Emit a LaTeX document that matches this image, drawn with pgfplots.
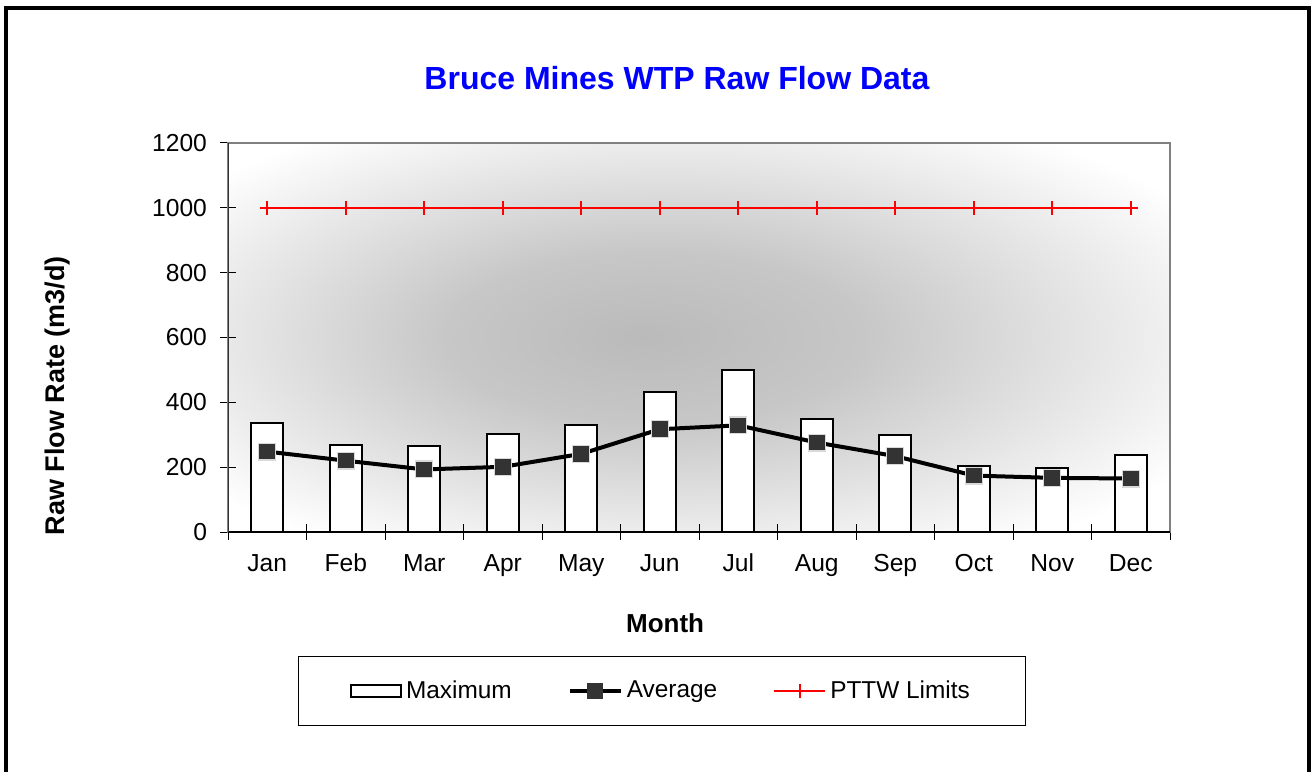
\documentclass[border=0pt]{standalone}
\usepackage{fontspec}
\setmainfont{Liberation Sans}
\usepackage{pgfplots}
\pgfplotsset{compat=1.18}
\definecolor{mkgray}{RGB}{51,51,51}
\definecolor{frgray}{RGB}{128,128,128}
\definecolor{pttwred}{RGB}{255,0,0}
\definecolor{titleblue}{RGB}{0,0,255}
\pgfdeclareradialshading{bgshade}{\pgfpoint{-3bp}{0bp}}{%
  color(0bp)=(black!27);
  color(11bp)=(black!22);
  color(32bp)=(white);
  color(50bp)=(white)}
\begin{document}
\begin{tikzpicture}
\path[use as bounding box] (0,0) rectangle (655.5pt,385.5pt);
\draw[black,line width=2pt] (3pt,-2pt) -- (3pt,381.5pt) -- (654.5pt,381.5pt) -- (654.5pt,-2pt);
\begin{axis}[
  at={(114pt,119.5pt)}, anchor=south west,
  scale only axis, width=471pt, height=194.5pt,
  xmin=0.5, xmax=12.5, ymin=0, ymax=1200,
  xtick={0.5,1.5,...,12.5},
  x tick label as interval,
  xticklabels={Jan,Feb,Mar,Apr,May,Jun,Jul,Aug,Sep,Oct,Nov,Dec},
  ytick={0,200,...,1200},
  xtick pos=bottom, ytick pos=left,
  tick align=center, major tick length=8pt,
  every tick/.style={black,line width=0.5pt},
  /pgf/number format/assume math mode=true,
  /pgf/number format/1000 sep={},
  tick label style={font=\fontsize{12.3}{14}\selectfont},
  xticklabel style={yshift=-3pt,text height=9pt,text depth=2.5pt},
  yticklabel style={xshift=-3pt},
  axis line style={frgray,line width=1pt},
  axis background/.style={shading=bgshade},
  every axis title shift=0pt,
  title={Bruce Mines WTP Raw Flow Data},
  title style={at={(axis description cs:0.4766,1.167)},anchor=center,
    font=\fontsize{16}{19}\selectfont\bfseries,text=titleblue},
  xlabel={Month},
  xlabel style={at={(axis description cs:0.464,-0.234)},anchor=center,
    font=\fontsize{13}{15}\selectfont\bfseries},
  ylabel={Raw Flow Rate (m3/d)},
  ylabel style={at={(axis description cs:-0.1805,0.35)},anchor=center,rotate=0,
    font=\fontsize{13.5}{15}\selectfont\bfseries},
  legend columns=3,
  legend style={at={(axis description cs:0.4607,-0.4087)},anchor=center,
    draw=black,line width=0.5pt,fill=white,
    inner xsep=25.75pt, inner ysep=10pt,
    font=\fontsize{12.2}{14}\selectfont,
    /tikz/every even column/.append style={column sep=26pt},
    cells={anchor=west}},
]
\draw[black,line width=1pt] (rel axis cs:0,0) -- (rel axis cs:1,0);
\draw[black!80,line width=1pt] (rel axis cs:0,0) -- (rel axis cs:0,1);
\addplot[ybar, bar width=0.41, fill=white, draw=black, line width=1.1pt,
  legend image code/.code={\draw[black,fill=white,line width=1pt] (0pt,-3pt) rectangle (25pt,3pt);}]
  coordinates {(1,336) (2,269) (3,265) (4,302) (5,330) (6,432) (7,500) (8,349) (9,300) (10,204) (11,197) (12,237)};
\addlegendentry{Maximum}
\addplot[black, line width=2pt, mark=square*, mark size=4.2pt,
  mark options={fill=mkgray, draw=white!85!black, line width=0.6pt},
  legend image code/.code={\draw[black,line width=2pt] (0pt,0pt) -- (25.5pt,0pt);
    \fill[mkgray] (9.75pt,-3pt) rectangle (15.75pt,3pt);}]
  coordinates {(1,248) (2,220) (3,193) (4,201) (5,241) (6,317) (7,329) (8,276) (9,234) (10,174) (11,167) (12,165)};
\addlegendentry{Average}
\addplot[pttwred, line width=1pt, mark=+, mark size=3.5pt,
  mark options={line width=0.8pt},
  legend image code/.code={\draw[pttwred,line width=1pt] (0pt,0pt) -- (25.5pt,0pt);
    \draw[pttwred,line width=0.8pt] (12.75pt,-3.5pt) -- (12.75pt,3.5pt);}]
  coordinates {(1,1000) (2,1000) (3,1000) (4,1000) (5,1000) (6,1000) (7,1000) (8,1000) (9,1000) (10,1000) (11,1000) (12,1000)};
\addlegendentry{PTTW Limits}
\end{axis}
\end{tikzpicture}
\end{document}
